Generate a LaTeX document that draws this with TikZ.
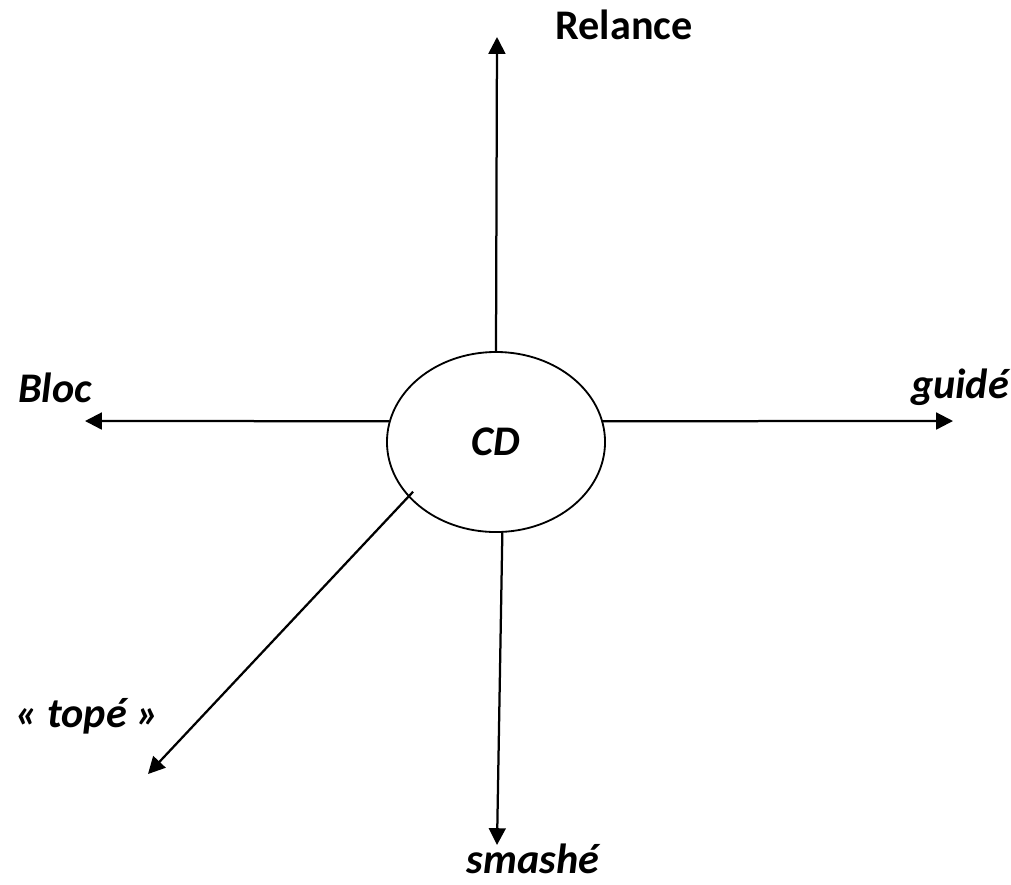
\documentclass[tikz,border=0pt]{standalone}
\usepackage{fontspec}
\setmainfont{Carlito}
\usetikzlibrary{positioning,shapes.geometric,arrows.meta}

\begin{document}
\begin{tikzpicture}[
      x=0.025cm, y=-0.025cm,
      every node/.style={font=\fontsize{30}{34}\selectfont\bfseries, align=center, inner sep=1pt},
      hub/.style={draw, ellipse, line width=1.3pt, minimum width=5.45cm, minimum height=4.5cm},
      tag/.style={font=\fontsize{30}{34}\selectfont\bfseries\itshape},
      arrow/.style={-{Triangle[length=4.2mm, width=4.2mm]}, line width=1.6pt},
  ]
    \useasboundingbox (0,0) rectangle (1011,884);

    % centre
    \node[hub] (cd) at (496,442) {\itshape CD};

    % arrow tips
    \coordinate (upTip)    at (497,37);
    \coordinate (leftTip)  at (85,421);
    \coordinate (rightTip) at (953,421);
    \coordinate (downTip)  at (497,845);
    \coordinate (diagTip)  at (148,774);

    % labels
    \node (relance) at (624,25) {Relance};
    \node[tag] (bloc)  at (55,388)  {Bloc};
    \node[tag] (guide) at (960,387) {guidé};
    \node[tag] (tope)  at (87,716)  {« topé »};
    \node[tag] (smash) at (533,859) {smashé};

    % arrows
    \draw[arrow] (cd.north) -- (upTip);
    \draw[arrow] (cd.169)   -- (leftTip);
    \draw[arrow] (cd.11)    -- (rightTip);
    \draw[arrow] (cd.-86)   -- (downTip);
    \draw[arrow, shorten <=-5pt] (cd.-148) -- (diagTip);
  \end{tikzpicture}
\end{document}
